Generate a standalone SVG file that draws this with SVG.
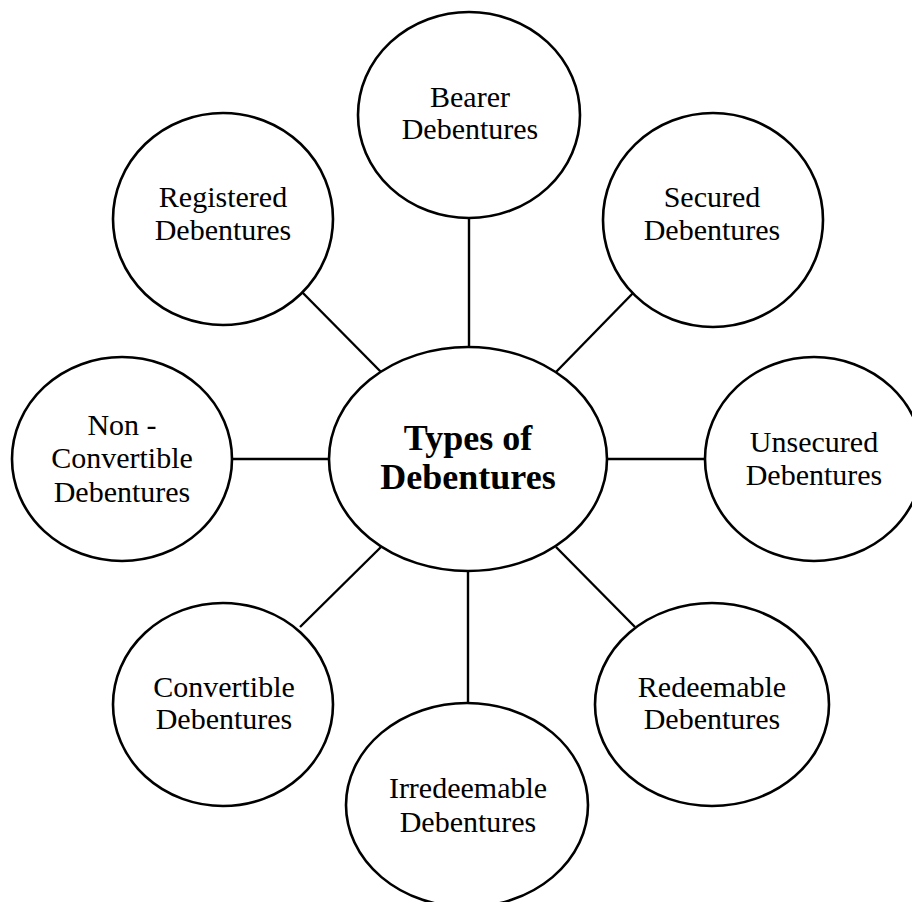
<svg xmlns="http://www.w3.org/2000/svg" width="912" height="902" viewBox="0 0 912 902">
<style>
.n{fill:#fff;stroke:#000;stroke-width:2.6}
.c line{stroke:#000;stroke-width:2.4}
text{font-family:"Liberation Serif","Times New Roman",serif;font-size:30px;fill:#000;text-anchor:middle}
.b{font-weight:bold;font-size:36px}
</style>
<rect width="912" height="902" fill="#fff"/>
<g class="c" id="connectors">
<line x1="469" y1="218" x2="469" y2="347"/>
<line x1="636" y1="290" x2="556" y2="372"/>
<line x1="607" y1="459" x2="705" y2="459"/>
<line x1="556" y1="547" x2="635" y2="627"/>
<line x1="468" y1="571" x2="468" y2="703"/>
<line x1="381" y1="547" x2="300" y2="627"/>
<line x1="232" y1="459" x2="329" y2="459"/>
<line x1="299" y1="289" x2="381" y2="372"/>
</g>
<g id="center"><ellipse class="n" cx="468" cy="459" rx="139" ry="112"/><text class="b" x="468" y="450">Types of</text><text class="b" x="468" y="489">Debentures</text></g>
<g id="bearer"><ellipse class="n" cx="469" cy="115" rx="111" ry="103"/><text x="470" y="107">Bearer</text><text x="470" y="139">Debentures</text></g>
<g id="secured"><ellipse class="n" cx="713" cy="220" rx="110" ry="107"/><text x="712" y="207">Secured</text><text x="712" y="240">Debentures</text></g>
<g id="unsecured"><ellipse class="n" cx="814" cy="459" rx="109" ry="102"/><text x="814" y="452">Unsecured</text><text x="814" y="485">Debentures</text></g>
<g id="redeemable"><ellipse class="n" cx="712" cy="704.5" rx="117" ry="101.5"/><text x="712" y="697">Redeemable</text><text x="712" y="729">Debentures</text></g>
<g id="irredeemable"><ellipse class="n" cx="467" cy="805" rx="121" ry="102"/><text x="468" y="798">Irredeemable</text><text x="468" y="832">Debentures</text></g>
<g id="convertible"><ellipse class="n" cx="223" cy="704.5" rx="110" ry="101.5"/><text x="224" y="697">Convertible</text><text x="224" y="729">Debentures</text></g>
<g id="nonconvertible"><ellipse class="n" cx="122" cy="459" rx="110" ry="102"/><text x="122" y="435">Non -</text><text x="122" y="468">Convertible</text><text x="122" y="502">Debentures</text></g>
<g id="registered"><ellipse class="n" cx="223" cy="219" rx="110" ry="106"/><text x="223" y="207">Registered</text><text x="223" y="240">Debentures</text></g>
</svg>
